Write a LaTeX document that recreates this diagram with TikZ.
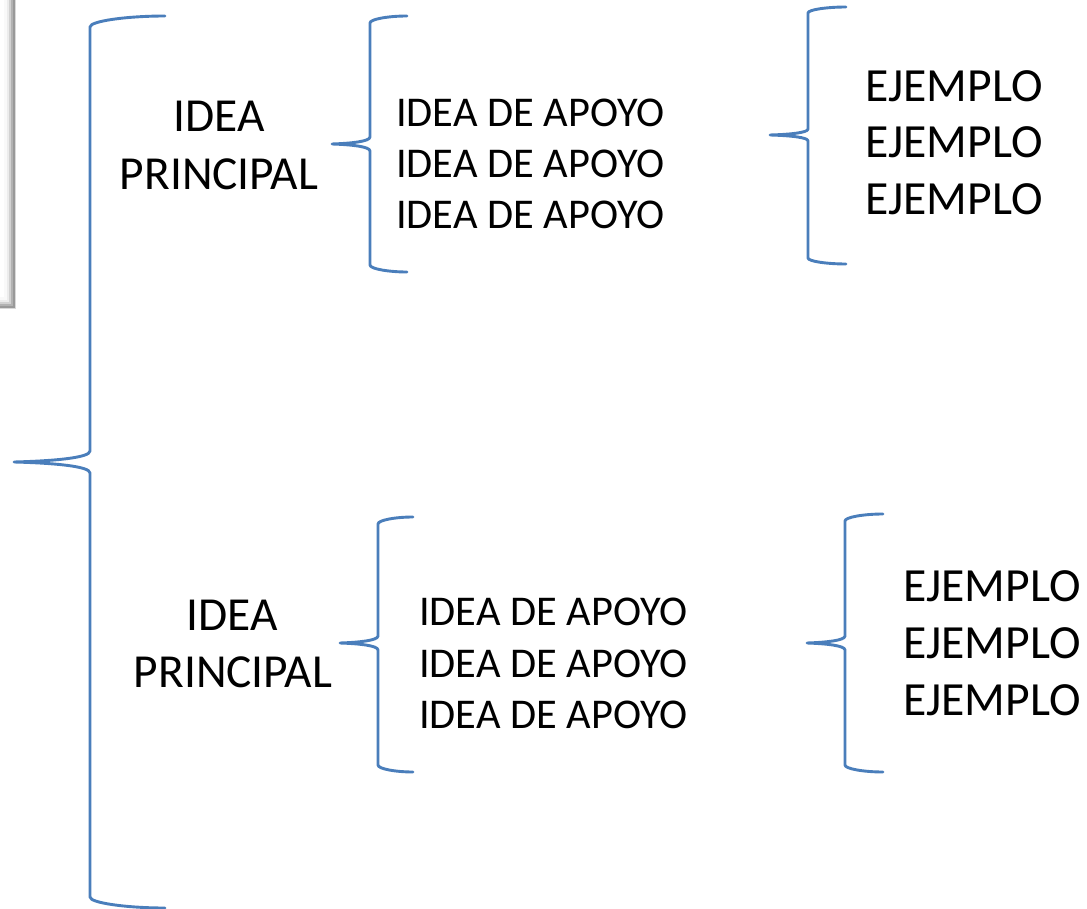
\documentclass[tikz,border=0pt]{standalone}
\usepackage{fontspec}
\setmainfont{Carlito}
\definecolor{braceblue}{HTML}{4A7EBB}
\tikzset{
  bracestyle/.style={draw=braceblue, line width=2.9pt, line join=round, line cap=round},
  apoyo/.style={anchor=base west, inner sep=0pt, font=\fontsize{42.4}{50}\selectfont},
  ejemplo/.style={anchor=base west, inner sep=0pt, font=\fontsize{47.6}{56}\selectfont},
  principal/.style={anchor=base, inner sep=0pt, font=\fontsize{47.4}{56}\selectfont}
}
% #1 xend, #2 xv, #3 xtip, #4 ytop, #5 ymid, #6 ybot, #7 curve height
\newcommand\mybrace[7]{%
  \draw[bracestyle] (#1,#4)
    .. controls ({#2+0.5*(#1-#2)},#4) and (#2,{#4+0.45*#7}) .. (#2,{#4+#7})
    -- (#2,{#5-#7})
    .. controls (#2,{#5-0.4*#7}) and ({#2-0.45*(#2-#3)},{#5-0.1*#7}) .. (#3,#5)
    .. controls ({#2-0.45*(#2-#3)},{#5+0.1*#7}) and (#2,{#5+0.4*#7}) .. (#2,{#5+#7})
    -- (#2,{#6-#7})
    .. controls (#2,{#6-0.45*#7}) and ({#2+0.5*(#1-#2)},#6) .. (#1,#6);}
\begin{document}
\begin{tikzpicture}[x=1pt,y=-1pt]
\useasboundingbox (0,0) rectangle (1087,909);
\fill[white] (0,0) rectangle (1087,909);
% partial framed box at the left edge
\fill[gray!30] (-10,-10) rectangle (16,309);
\fill[gray!80] (-10,-10) rectangle (15,308);
\fill[gray!60] (-10,-10) rectangle (13,306);
\fill[gray!35] (-10,-10) rectangle (11,304);
\fill[gray!15] (-10,-10) rectangle (9,302);
\fill[gray!5] (-10,-10) rectangle (7,300);
\fill[white] (-10,-10) rectangle (4,297);
% braces
\mybrace{165}{90}{14}{16}{462}{908}{11}
\mybrace{407}{370}{332}{16}{144}{272}{7}
\mybrace{846}{808}{770}{7}{135}{264}{6}
\mybrace{413}{378}{340}{517}{643}{772}{7}
\mybrace{883}{845}{807}{514}{643}{772}{7}
% top group
\node[principal] (ip1a) at (219,132) {IDEA};
\node[principal] (ip1b) at (219,190) {PRINCIPAL};
\node[apoyo] (ap1a) at (396,127) {IDEA DE APOYO};
\node[apoyo] (ap1b) at (396,178) {IDEA DE APOYO};
\node[apoyo] (ap1c) at (396,229) {IDEA DE APOYO};
\node[ejemplo] (ej1a) at (865,102) {EJEMPLO};
\node[ejemplo] (ej1b) at (865,158) {EJEMPLO};
\node[ejemplo] (ej1c) at (865,215) {EJEMPLO};
% bottom group
\node[principal] (ip2a) at (232,630) {IDEA};
\node[principal] (ip2b) at (233,687) {PRINCIPAL};
\node[apoyo] (ap2a) at (419,625) {IDEA DE APOYO};
\node[apoyo] (ap2b) at (419,677) {IDEA DE APOYO};
\node[apoyo] (ap2c) at (419,728) {IDEA DE APOYO};
\node[ejemplo] (ej2a) at (903,601) {EJEMPLO};
\node[ejemplo] (ej2b) at (903,658) {EJEMPLO};
\node[ejemplo] (ej2c) at (903,715) {EJEMPLO};
\end{tikzpicture}
\end{document}
